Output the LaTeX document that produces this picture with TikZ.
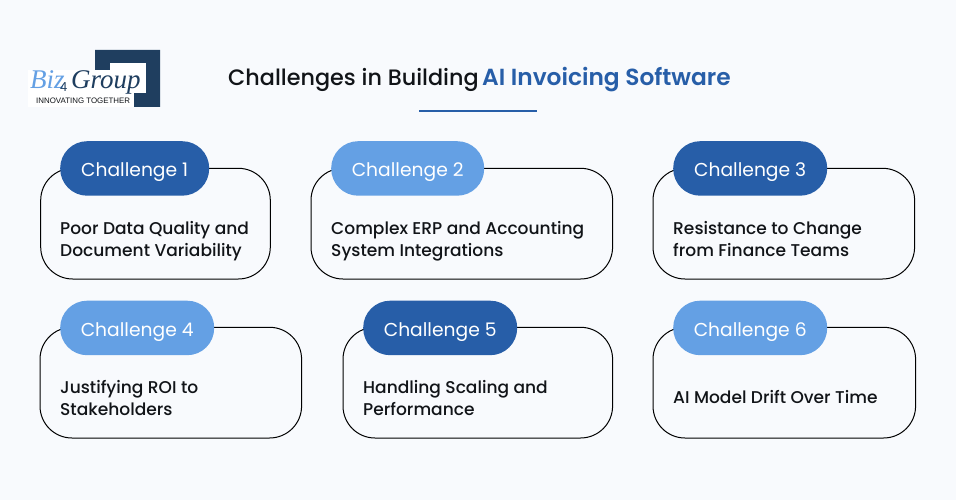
\documentclass[tikz,border=0pt]{standalone}
\usepackage{fontspec}
\setmainfont{Poppins}
\newfontfamily\medfont{Poppins Medium}
\newfontfamily\semifont{Poppins SemiBold}
\newfontfamily\logofont{Liberation Serif}
\newfontfamily\tagfont{Liberation Sans}
\definecolor{pagebg}{HTML}{F8FAFD}
\definecolor{darkblue}{HTML}{275EA8}
\definecolor{lightblue}{HTML}{64A0E4}
\definecolor{navy}{HTML}{1F3E5F}
\definecolor{inktext}{HTML}{111418}
\newcommand\tstr{\rule{0pt}{16pt}}
\newcommand\bstr{\rule[-5pt]{0pt}{5pt}}
\newcommand\pilltxt[1]{\raisebox{-8.2pt}[0pt][0pt]{#1}}
\tikzset{
  x=1pt,y=-1pt,
  card/.style={draw=black,line width=1pt,rounded corners=32pt,fill=pagebg,inner sep=0pt,anchor=north west,minimum height=110.7pt},
  pill/.style={rounded corners=27pt,inner sep=0pt,anchor=north west,minimum height=54.5pt,text=white,font=\fontsize{18.7}{24}\selectfont,align=center},
  body/.style={anchor=west,inner sep=0pt,align=left,text=inktext,font=\medfont\fontsize{17.05}{22}\selectfont},
  logo/.style={anchor=base west,inner sep=0pt,font=\logofont\itshape\fontsize{27}{28}\selectfont},
}
\begin{document}
\begin{tikzpicture}
\useasboundingbox (0,0) rectangle (956,500);
\fill[pagebg] (0,0) rectangle (956,500);
% logo
\fill[navy] (95,50) -- (160,50) -- (160,107) -- (134,107) -- (134,93) -- (146,93) -- (146,63) -- (110,63) -- (110,70) -- (95,70) -- cycle;
\fill[white] (28,70) rectangle (134,107);
\fill[white] (110,63) rectangle (146,93);
\node[logo,text=lightblue] (lbiz) at (30,89) {Biz};
\node[logo,text=navy] (lgroup) at (71,89) {Group};
\node[anchor=base west,inner sep=0pt,text=navy,font=\tagfont\fontsize{13}{14}\selectfont] (lfour) at (60,92) {4};
\node[anchor=base west,inner sep=0pt,text=inktext,font=\tagfont\fontsize{7.9}{9}\selectfont] (ltag) at (36,104) {INNOVATING TOGETHER};
% title
\node[anchor=base west,inner sep=0pt,text=inktext,font=\medfont\fontsize{22.3}{28}\selectfont] (t1) at (228,86) {Challenges in Building};
\node[anchor=base west,inner sep=0pt,text=darkblue,font=\semifont\fontsize{23.3}{28}\selectfont] (t2) at (482,86) {AI Invoicing Software};
\node[fill=darkblue,inner sep=0pt,minimum width=118pt,minimum height=2pt,anchor=north west] (rule) at (419,109.5) {};
% cards
\node[card,minimum width=229.6pt] (c1) at (40.2,167.8) {};
\node[card,minimum width=301.6pt] (c2) at (310.5,167.8) {};
\node[card,minimum width=261.6pt] (c3) at (652.5,167.8) {};
\node[card,minimum width=261.6pt] (c4) at (39.5,326.8) {};
\node[card,minimum width=269.6pt] (c5) at (342.5,326.8) {};
\node[card,minimum width=262.6pt] (c6) at (652.5,326.8) {};
% pills
\node[pill,fill=darkblue,minimum width=149pt] (p1) at (60,141) {\pilltxt{Challenge 1}};
\node[pill,fill=lightblue,minimum width=153pt] (p2) at (331,141) {\pilltxt{Challenge 2}};
\node[pill,fill=darkblue,minimum width=154pt] (p3) at (673,141) {\pilltxt{Challenge 3}};
\node[pill,fill=lightblue,minimum width=154pt] (p4) at (60,300.5) {\pilltxt{Challenge 4}};
\node[pill,fill=darkblue,minimum width=154pt] (p5) at (363,300.5) {\pilltxt{Challenge 5}};
\node[pill,fill=lightblue,minimum width=154pt] (p6) at (673,300.5) {\pilltxt{Challenge 6}};
% body
\node[body] (b1) at (60,239.5) {\tstr Poor Data Quality and\\Document Variability\bstr};
\node[body] (b2) at (331,239.5) {\tstr Complex ERP and Accounting\\System Integrations\bstr};
\node[body] (b3) at (673,239.5) {\tstr Resistance to Change\\from Finance Teams\bstr};
\node[body] (b4) at (60,398.5) {\tstr Justifying ROI to\\Stakeholders\bstr};
\node[body] (b5) at (363,398.5) {\tstr Handling Scaling and\\Performance\bstr};
\node[body] (b6) at (673,397.5) {\tstr AI Model Drift Over Time\bstr};
\end{tikzpicture}
\end{document}
